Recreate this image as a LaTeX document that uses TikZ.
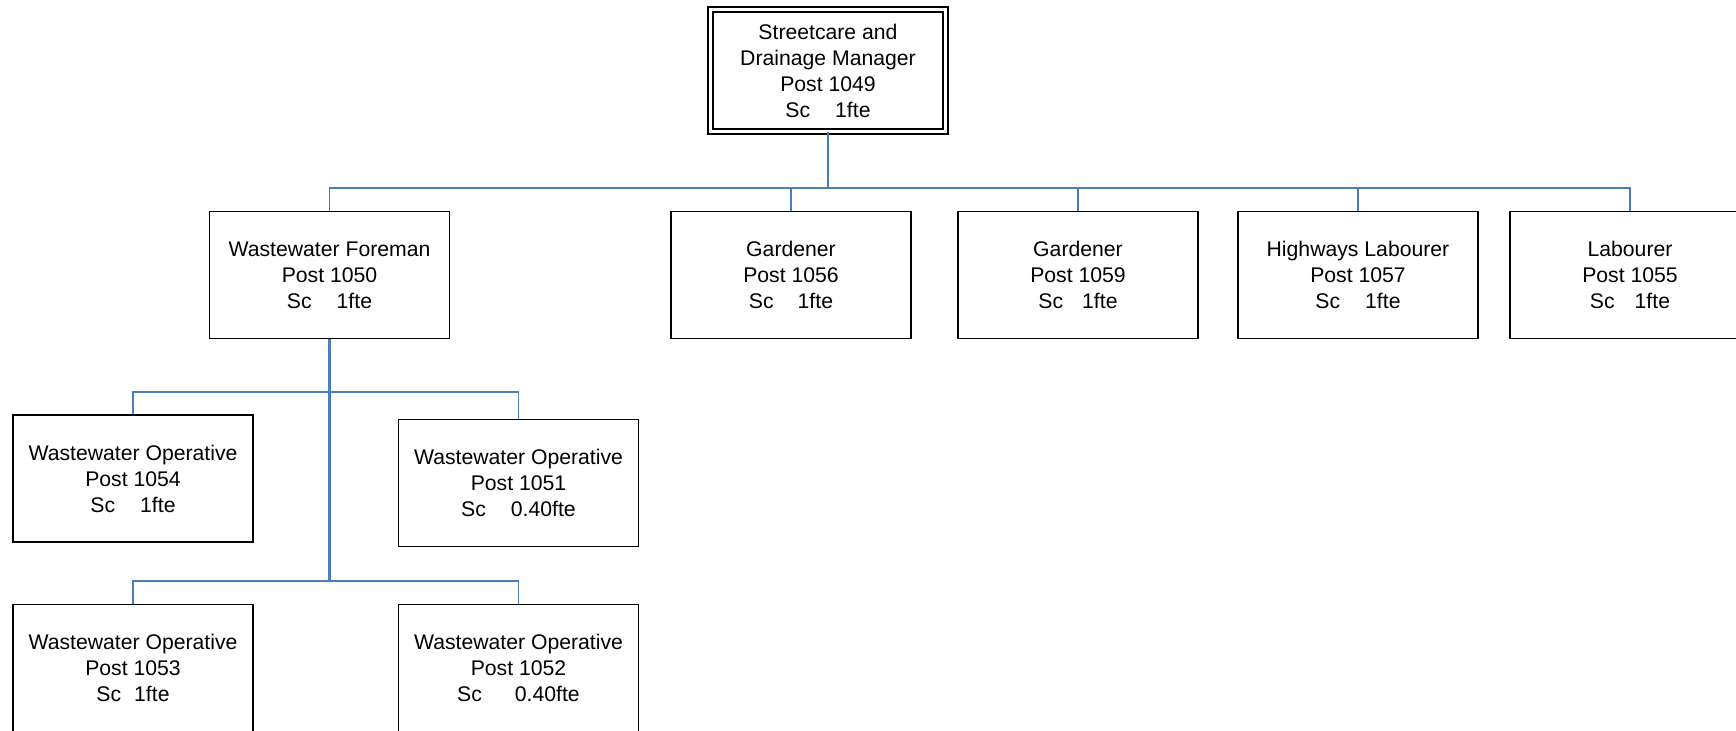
\documentclass[tikz,border=0pt]{standalone}
\usepackage{fontspec}
\setmainfont{Liberation Sans}
\usepackage{tikz}

\definecolor{linkblue}{RGB}{74,126,187}

\begin{document}
\begin{tikzpicture}[x=0.5pt,y=-0.5pt,
        post/.style={draw,line width=0.75pt,minimum width=120pt,minimum height=63.5pt,
            inner sep=0pt,align=center,font=\fontsize{10.6}{13}\selectfont},
        head/.style={post,double=white,double distance=1.8pt,line width=0.7pt,
            minimum width=117.6pt,minimum height=61.1pt},
        trunk/.style={linkblue,line width=1.2pt},
        branch/.style={linkblue,line width=0.7pt}]
        \useasboundingbox (0,0) rectangle (1736,731);

        % Manager at the top
        \node[head] (mgr) at (828,70.5) {Streetcare and\\Drainage Manager\\Post 1049\\Sc\hspace{12.5pt}1fte};

        % First row of posts
        \node[post] (foreman) at (329.5,275) {Wastewater Foreman\\Post 1050\\Sc\hspace{12.5pt}1fte};
        \node[post] (gard56) at (791,275) {Gardener\\Post 1056\\Sc\hspace{12pt}1fte};
        \node[post] (gard59) at (1078,275) {Gardener\\Post 1059\\Sc\hspace{9.5pt}1fte};
        \node[post] (hwlab) at (1358,275) {Highways Labourer\\Post 1057\\Sc\hspace{12.5pt}1fte};
        \node[post] (lab) at (1630,275) {Labourer\\Post 1055\\Sc\hspace{10pt}1fte};

        % Operatives under the foreman
        \node[post] (op54) at (133,478.5) {Wastewater Operative\\Post 1054\\Sc\hspace{12.5pt}1fte};
        \node[post] (op51) at (518.5,483) {Wastewater Operative\\Post 1051\\Sc\hspace{12.5pt}0.40fte};
        \node[post] (op53) at (133,668) {Wastewater Operative\\Post 1053\\Sc\hspace{6.5pt}1fte};
        \node[post] (op52) at (518.5,668) {Wastewater Operative\\Post 1052\\Sc\hspace{16.5pt}0.40fte};

        % Bus lines
        \coordinate (busA) at (828,188);
        \coordinate (busB) at (329.5,392);
        \coordinate (busC) at (329.5,581);

        % Links from the manager
        \draw[trunk] (mgr.south) -- (busA);
        \foreach \n in {foreman,gard56,gard59,hwlab,lab}
            \draw[branch] (busA) -| (\n.north);

        % Links from the foreman
        \draw[trunk] (foreman.south) -- (busC);
        \draw[branch] (busB) -| (op54.north);
        \draw[branch] (busB) -| (op51.north);
        \draw[branch] (busC) -| (op53.north);
        \draw[branch] (busC) -| (op52.north);
\end{tikzpicture}
\end{document}
